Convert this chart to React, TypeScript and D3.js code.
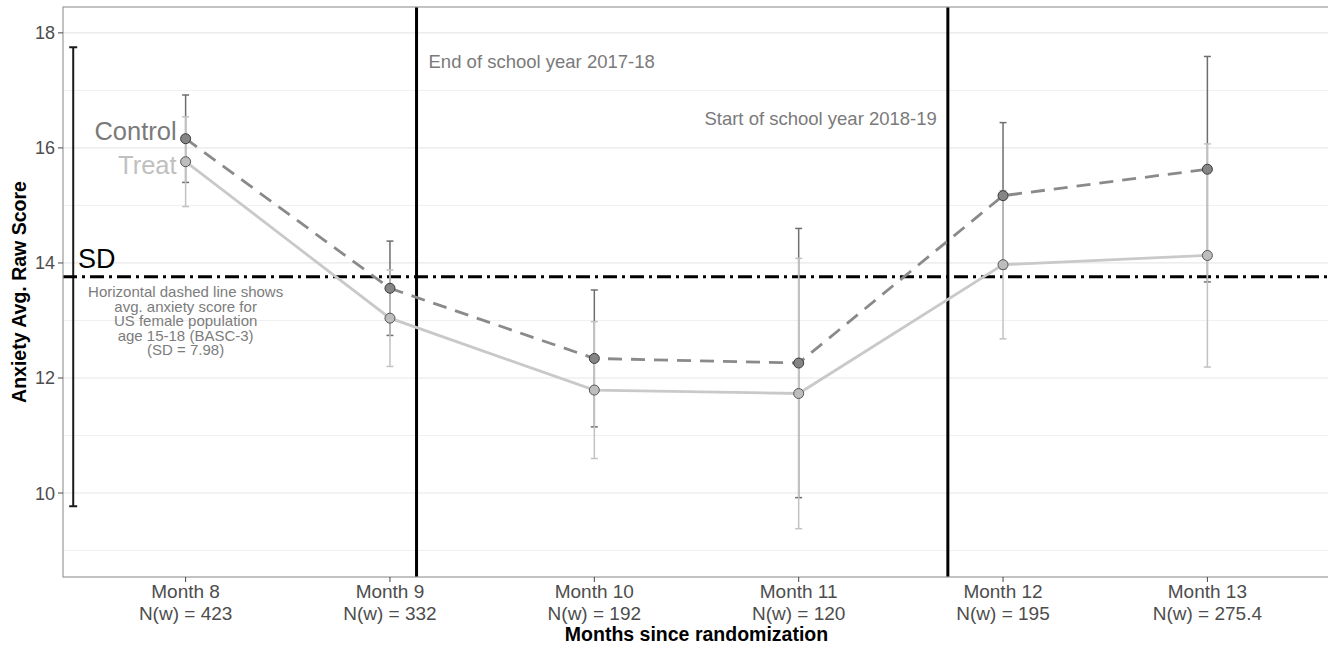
import React from "react";
import * as d3 from "d3";

// Survey waves (months since randomization) and weighted sample sizes
const months = ["Month 8", "Month 9", "Month 10", "Month 11", "Month 12", "Month 13"];
const weightedN = ["423", "332", "192", "120", "195", "275.4"];

// Group means and half-widths of the confidence intervals
const controlMean = [16.16, 13.56, 12.34, 12.26, 15.17, 15.63];
const controlHalf = [0.76, 0.82, 1.19, 2.34, 1.27, 1.96];
const treatMean = [15.76, 13.04, 11.79, 11.73, 13.97, 14.13];
const treatHalf = [0.78, 0.84, 1.19, 2.35, 1.29, 1.94];

// Reference population (BASC-3, US female 15-18)
const populationMean = 13.76;
const populationSD = 7.98;
const sdBarPosition = -0.55; // in month-index units

// School-year boundaries, in month-index units
const schoolYearBreaks = [1.13, 3.73];

const majorTicks = [10, 12, 14, 16, 18];
const minorTicks = [9, 11, 13, 15, 17];

const W = 1328;
const H = 650;
const panel = { left: 63, right: 1330, top: 7, bottom: 577 };

const FONT = "'Liberation Sans', Arial, Helvetica, sans-serif";

export default function App() {
  const x = d3.scaleLinear().domain([-0.6, months.length - 0.4]).range([panel.left, panel.right]);
  const y = d3.scaleLinear().domain([8.54, 18.45]).range([panel.bottom, panel.top]);

  const line = d3
    .line<number>()
    .x((_, i) => x(i))
    .y((d) => y(d));

  const capHalf = 3.5;

  const errorBars = (means: number[], halves: number[], color: string, key: string) =>
    means.map((m, i) => {
      const cx = x(i);
      const lo = y(m - halves[i]);
      const hi = y(m + halves[i]);
      return (
        <g key={`${key}-${i}`} stroke={color} strokeWidth={1.5}>
          <line x1={cx} x2={cx} y1={lo} y2={hi} />
          <line x1={cx - capHalf} x2={cx + capHalf} y1={lo} y2={lo} />
          <line x1={cx - capHalf} x2={cx + capHalf} y1={hi} y2={hi} />
        </g>
      );
    });

  const sdLo = y(populationMean - populationSD / 2);
  const sdHi = y(populationMean + populationSD / 2);
  const sdX = x(sdBarPosition);

  const noteLines = [
    "Horizontal dashed line shows",
    "avg. anxiety score for",
    "US female population",
    "age 15-18 (BASC-3)",
    `(SD = ${populationSD})`,
  ];

  return (
    <svg
      width={W}
      height={H}
      style={{ position: "absolute", left: 0, top: 0, background: "#fff" }}
      fontFamily={FONT}
    >
      <defs>
        <clipPath id="panel-clip">
          <rect x={panel.left} y={panel.top} width={panel.right - panel.left} height={panel.bottom - panel.top} />
        </clipPath>
      </defs>

      {/* grid */}
      <g clipPath="url(#panel-clip)">
        {minorTicks.map((t) => (
          <line key={`mn${t}`} x1={panel.left} x2={panel.right} y1={y(t)} y2={y(t)} stroke="#f0f0f0" strokeWidth={1} />
        ))}
        {majorTicks.map((t) => (
          <line key={`mj${t}`} x1={panel.left} x2={panel.right} y1={y(t)} y2={y(t)} stroke="#e8e8e8" strokeWidth={1.2} />
        ))}
      </g>

      {/* annotations */}
      <text x={x(schoolYearBreaks[0]) + 12} y={68} fontSize={18.5} fill="#7a7a7a">
        End of school year 2017-18
      </text>
      <text x={x(schoolYearBreaks[1]) - 11} y={125} fontSize={18.5} fill="#7a7a7a" textAnchor="end">
        Start of school year 2018-19
      </text>
      <text x={x(0) - 9} y={140} fontSize={25.5} fill="#7a7a7a" textAnchor="end">
        Control
      </text>
      <text x={x(0) - 9} y={174} fontSize={25.5} fill="#c0c0c0" textAnchor="end">
        Treat
      </text>
      <text x={78} y={268} fontSize={27} fill="#000">
        SD
      </text>
      <text x={x(0)} y={297} fontSize={15} fill="#7c7c7c" textAnchor="middle">
        {noteLines.map((t, i) => (
          <tspan key={i} x={x(0)} dy={i === 0 ? 0 : 14.5}>
            {t}
          </tspan>
        ))}
      </text>

      <g clipPath="url(#panel-clip)">
        {/* school-year boundaries */}
        {schoolYearBreaks.map((b) => (
          <line key={b} x1={x(b)} x2={x(b)} y1={panel.top} y2={panel.bottom} stroke="#000" strokeWidth={3} />
        ))}

        {/* population SD bar */}
        <g stroke="#1a1a1a" strokeWidth={2}>
          <line x1={sdX} x2={sdX} y1={sdLo} y2={sdHi} />
          <line x1={sdX - 4} x2={sdX + 4} y1={sdLo} y2={sdLo} />
          <line x1={sdX - 4} x2={sdX + 4} y1={sdHi} y2={sdHi} />
        </g>

        {/* population mean */}
        <line
          x1={panel.left}
          x2={panel.right}
          y1={y(populationMean)}
          y2={y(populationMean)}
          stroke="#000"
          strokeWidth={3}
          strokeDasharray="14 5 3 5"
        />

        {errorBars(controlMean, controlHalf, "#6e6e6e", "c")}
        {errorBars(treatMean, treatHalf, "#c2c2c2", "t")}

        <path d={line(controlMean) || ""} fill="none" stroke="#8a8a8a" strokeWidth={2.8} strokeDasharray="14 9" />
        <path d={line(treatMean) || ""} fill="none" stroke="#c9c9c9" strokeWidth={2.8} />

        {controlMean.map((m, i) => (
          <circle key={`cp${i}`} cx={x(i)} cy={y(m)} r={5} fill="#858585" stroke="#3a3a3a" strokeWidth={1} />
        ))}
        {treatMean.map((m, i) => (
          <circle key={`tp${i}`} cx={x(i)} cy={y(m)} r={5} fill="#bdbdbd" stroke="#555" strokeWidth={1} />
        ))}
      </g>

      {/* panel border */}
      <rect
        x={panel.left}
        y={panel.top}
        width={panel.right - panel.left}
        height={panel.bottom - panel.top}
        fill="none"
        stroke="#9a9a9a"
        strokeWidth={1.2}
      />

      {/* y axis */}
      {majorTicks.map((t) => (
        <g key={`yt${t}`}>
          <line x1={panel.left - 5} x2={panel.left} y1={y(t)} y2={y(t)} stroke="#444" strokeWidth={1} />
          <text x={panel.left - 8} y={y(t)} dy="0.36em" fontSize={18} fill="#4d4d4d" textAnchor="end">
            {t}
          </text>
        </g>
      ))}

      {/* x axis */}
      {months.map((m, i) => (
        <g key={`xt${i}`}>
          <line x1={x(i)} x2={x(i)} y1={panel.bottom} y2={panel.bottom + 5} stroke="#444" strokeWidth={1} />
          <text x={x(i)} y={598} fontSize={19} fill="#4d4d4d" textAnchor="middle">
            {m}
          </text>
          <text x={x(i)} y={620} fontSize={19} fill="#4d4d4d" textAnchor="middle">
            {`N(w) = ${weightedN[i]}`}
          </text>
        </g>
      ))}

      <text
        x={(panel.left + panel.right) / 2}
        y={641}
        fontSize={19.5}
        fontWeight="bold"
        fill="#000"
        textAnchor="middle"
      >
        Months since randomization
      </text>
      <text
        transform={`translate(26, ${(panel.top + panel.bottom) / 2}) rotate(-90)`}
        fontSize={19.5}
        fontWeight="bold"
        fill="#000"
        textAnchor="middle"
      >
        Anxiety Avg. Raw Score
      </text>
    </svg>
  );
}
